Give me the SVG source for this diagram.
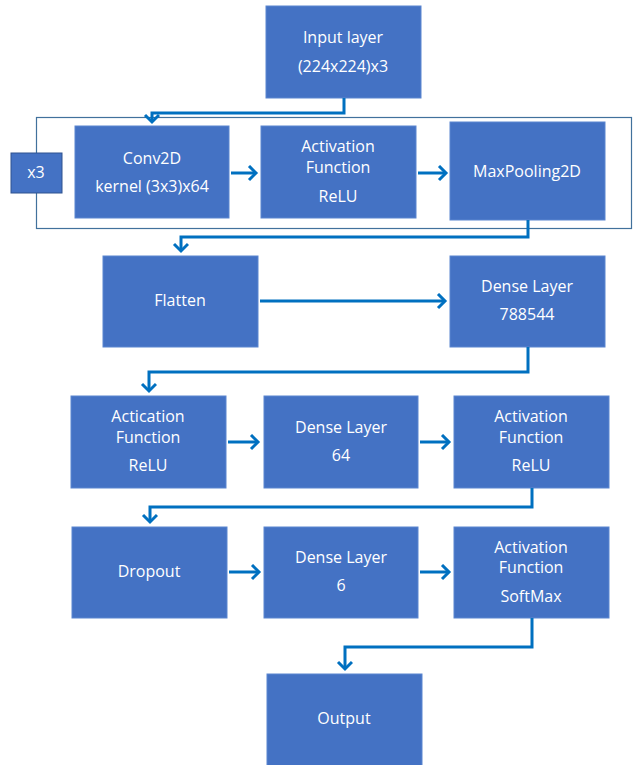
<svg xmlns="http://www.w3.org/2000/svg" width="633" height="765" viewBox="0 0 633 765">
<style>
.box{fill:#4472C4;stroke:#5B86D0;stroke-width:1}
.t{font-family:"Open Sans","Liberation Sans",sans-serif;font-size:16px;fill:#FFFFFF;text-anchor:middle}
.c{fill:none;stroke:#0070C0;stroke-width:3;marker-end:url(#ah)}
</style>
<defs>
<marker id="ah" markerUnits="userSpaceOnUse" markerWidth="14" markerHeight="18" refX="9" refY="8" orient="auto" viewBox="0 0 14 18">
<path d="M2,1 L9,8 L2,15" fill="none" stroke="#0070C0" stroke-width="3"/>
</marker>
</defs>
<rect x="0" y="0" width="633" height="765" fill="#FFFFFF"/>
<g id="frame">
<rect x="36.5" y="117.5" width="595" height="111" fill="none" stroke="#41719C" stroke-width="1.2"/>
</g>
<g id="x3">
<rect x="11" y="153" width="51" height="40" fill="#4472C4" stroke="#2F528F" stroke-width="1"/>
<text class="t" x="36" y="178">x3</text>
</g>
<g id="input">
<rect class="box" x="266" y="6" width="155" height="92"/>
<text class="t" x="343" y="43">Input layer</text>
<text class="t" x="343" y="72">(224x224)x3</text>
</g>
<g id="conv2d">
<rect class="box" x="75" y="126" width="154" height="92"/>
<text class="t" x="152" y="164">Conv2D</text>
<text class="t" x="152" y="192">kernel (3x3)x64</text>
</g>
<g id="act1">
<rect class="box" x="261" y="126" width="155" height="92"/>
<text class="t" x="338" y="152">Activation</text>
<text class="t" x="338" y="173">Function</text>
<text class="t" x="338" y="202">ReLU</text>
</g>
<g id="maxpool">
<rect class="box" x="450" y="122" width="155" height="98"/>
<text class="t" x="527" y="177">MaxPooling2D</text>
</g>
<g id="flatten">
<rect class="box" x="103" y="256" width="155" height="91"/>
<text class="t" x="180" y="306">Flatten</text>
</g>
<g id="dense1">
<rect class="box" x="450" y="256" width="155" height="91"/>
<text class="t" x="527" y="292">Dense Layer</text>
<text class="t" x="527" y="320">788544</text>
</g>
<g id="act2">
<rect class="box" x="71" y="396" width="155" height="92"/>
<text class="t" x="148" y="422">Actication</text>
<text class="t" x="148" y="443">Function</text>
<text class="t" x="148" y="471">ReLU</text>
</g>
<g id="dense2">
<rect class="box" x="264" y="396" width="154" height="92"/>
<text class="t" x="341" y="433">Dense Layer</text>
<text class="t" x="341" y="461">64</text>
</g>
<g id="act3">
<rect class="box" x="454" y="396" width="155" height="92"/>
<text class="t" x="531" y="422">Activation</text>
<text class="t" x="531" y="443">Function</text>
<text class="t" x="531" y="471">ReLU</text>
</g>
<g id="dropout">
<rect class="box" x="72" y="527" width="155" height="91"/>
<text class="t" x="149" y="577">Dropout</text>
</g>
<g id="dense3">
<rect class="box" x="264" y="527" width="154" height="91"/>
<text class="t" x="341" y="563">Dense Layer</text>
<text class="t" x="341" y="591">6</text>
</g>
<g id="act4">
<rect class="box" x="454" y="527" width="155" height="91"/>
<text class="t" x="531" y="553">Activation</text>
<text class="t" x="531" y="573">Function</text>
<text class="t" x="531" y="602">SoftMax</text>
</g>
<g id="output">
<rect class="box" x="267" y="674" width="155" height="95"/>
<text class="t" x="344" y="724">Output</text>
</g>
<g id="connectors">
<path class="c" d="M344,98 V113 H152 V122"/>
<path class="c" d="M231,173 H256"/>
<path class="c" d="M418,173 H446"/>
<path class="c" d="M528,220 V237 H181 V251"/>
<path class="c" d="M260,301 H445"/>
<path class="c" d="M528,347 V372 H149 V391"/>
<path class="c" d="M228,442 H258"/>
<path class="c" d="M420,442 H449"/>
<path class="c" d="M532,488 V507 H150 V522"/>
<path class="c" d="M229,572 H259"/>
<path class="c" d="M420,572 H449"/>
<path class="c" d="M532,618 V647 H345 V669"/>
</g>
</svg>
